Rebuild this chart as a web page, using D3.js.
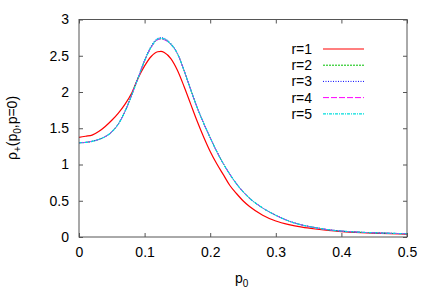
<!DOCTYPE html>
<html>
<head>
<meta charset="utf-8">
<script src="https://cdn.jsdelivr.net/npm/d3@7"></script>
<style>
  body { margin: 0; background: #fff; }
  text { font-family: "Liberation Sans", Arial, sans-serif; fill: #000; }
</style>
</head>
<body>
<svg id="chart" width="436" height="305"></svg>
<script>
const p0 = [0, 0.01, 0.02, 0.03, 0.04, 0.05, 0.06, 0.07, 0.08, 0.09, 0.10, 0.11,
  0.12, 0.125, 0.13, 0.14, 0.15, 0.16, 0.17, 0.18, 0.19, 0.20, 0.21, 0.22, 0.23,
  0.24, 0.25, 0.26, 0.28, 0.30, 0.32, 0.34, 0.36, 0.38, 0.40, 0.43, 0.46, 0.50];

const r1 = [1.375, 1.39, 1.405, 1.455, 1.525, 1.61, 1.71, 1.83, 1.98, 2.19, 2.36, 2.49,
  2.555, 2.56, 2.545, 2.46, 2.30, 2.08, 1.84, 1.60, 1.38, 1.18, 1.01, 0.86, 0.71,
  0.60, 0.50, 0.42, 0.30, 0.22, 0.17, 0.135, 0.11, 0.09, 0.075, 0.06, 0.05, 0.04];
const r2 = [1.30, 1.305, 1.32, 1.345, 1.385, 1.45, 1.56, 1.73, 1.95, 2.19, 2.43, 2.62,
  2.725, 2.735, 2.725, 2.66, 2.53, 2.30, 2.04, 1.79, 1.57, 1.37, 1.18, 1.01, 0.865,
  0.735, 0.625, 0.535, 0.40, 0.30, 0.22, 0.165, 0.13, 0.10, 0.082, 0.065, 0.055, 0.045];
const r3 = [1.30, 1.305, 1.32, 1.345, 1.385, 1.45, 1.56, 1.73, 1.95, 2.20, 2.44, 2.635,
  2.74, 2.75, 2.74, 2.67, 2.535, 2.30, 2.04, 1.79, 1.57, 1.37, 1.18, 1.01, 0.865,
  0.735, 0.625, 0.535, 0.40, 0.30, 0.22, 0.165, 0.13, 0.10, 0.082, 0.065, 0.055, 0.045];
const r4 = [1.30, 1.305, 1.32, 1.345, 1.385, 1.45, 1.56, 1.73, 1.95, 2.19, 2.43, 2.615,
  2.72, 2.73, 2.72, 2.655, 2.53, 2.30, 2.04, 1.79, 1.57, 1.37, 1.18, 1.01, 0.865,
  0.735, 0.625, 0.535, 0.40, 0.30, 0.22, 0.165, 0.13, 0.10, 0.082, 0.065, 0.055, 0.045];
const r5 = [1.30, 1.305, 1.32, 1.345, 1.385, 1.45, 1.56, 1.73, 1.95, 2.19, 2.43, 2.62,
  2.73, 2.74, 2.73, 2.66, 2.53, 2.30, 2.04, 1.79, 1.57, 1.37, 1.18, 1.01, 0.865,
  0.735, 0.625, 0.535, 0.40, 0.30, 0.22, 0.165, 0.13, 0.10, 0.082, 0.065, 0.055, 0.045];

const seriesNames = ["r=1", "r=2", "r=3", "r=4", "r=5"];
const xTicks = [0, 0.1, 0.2, 0.3, 0.4, 0.5];
const yTicks = [0, 0.5, 1, 1.5, 2, 2.5, 3];

const series = [r1, r2, r3, r4, r5];
const colors = ["#ff0000", "#00c000", "#0000ff", "#ff00ff", "#00dddd"];
const dashes = [null, "2,1", "1,1.5", "6,2", "3,1,1,1"];
const widths = [1.2, 1, 1, 1, 1.2];

const svg = d3.select("#chart");
const mLeft = 79, mRight = 407, mTop = 19.5, mBottom = 237;

const x = d3.scaleLinear().domain([0, 0.5]).range([mLeft, mRight]);
const y = d3.scaleLinear().domain([0, 3]).range([mBottom, mTop]);

// curves (drawn first, under the frame)
const line = d3.line()
  .x(d => x(d[0]))
  .y(d => y(d[1]))
  .curve(d3.curveMonotoneX);

svg.selectAll(".curve")
  .data(series)
  .enter()
  .append("path")
  .attr("class", "curve")
  .attr("fill", "none")
  .attr("stroke", (d, i) => colors[i])
  .attr("stroke-width", (d, i) => widths[i])
  .attr("stroke-dasharray", (d, i) => dashes[i])
  .attr("d", d => line(d.map((v, k) => [p0[k], v])));

// axes with inward ticks, mirrored on all sides
const axisColor = "#555";
const fmt = d => d3.format("")(d);

svg.append("g")
  .attr("transform", `translate(0,${mBottom})`)
  .call(d3.axisBottom(x).tickValues(xTicks).tickSize(-4).tickPadding(10).tickFormat(fmt));
svg.append("g")
  .attr("transform", `translate(0,${mTop})`)
  .call(d3.axisTop(x).tickValues(xTicks).tickSize(-4).tickFormat(""));
svg.append("g")
  .attr("transform", `translate(${mLeft},0)`)
  .call(d3.axisLeft(y).tickValues(yTicks).tickSize(-4).tickPadding(10).tickFormat(fmt));
svg.append("g")
  .attr("transform", `translate(${mRight},0)`)
  .call(d3.axisRight(y).tickValues(yTicks).tickSize(-4).tickFormat(""));

svg.selectAll(".domain").remove();
svg.selectAll(".tick line").attr("stroke", axisColor);
svg.selectAll(".tick text")
  .style("font-size", "14px")
  .style("font-family", "'Liberation Sans', Arial, sans-serif")
  .attr("fill", "#000");

svg.append("rect")
  .attr("x", mLeft)
  .attr("y", mTop)
  .attr("width", mRight - mLeft)
  .attr("height", mBottom - mTop)
  .attr("fill", "none")
  .attr("stroke", axisColor)
  .attr("stroke-width", 1);

// axis labels
const xl = svg.append("text")
  .attr("x", 235)
  .attr("y", 283)
  .style("font-size", "14px");
xl.append("tspan").text("p");
xl.append("tspan").attr("dy", 4).style("font-size", "10px").text("0");

const yl = svg.append("text")
  .attr("transform", "translate(17,128) rotate(-90)")
  .attr("text-anchor", "middle")
  .style("font-size", "14px");
yl.append("tspan").text("ρ");
yl.append("tspan").attr("dy", 4).style("font-size", "10px").text("+");
yl.append("tspan").attr("dy", -4).text("(p");
yl.append("tspan").attr("dy", 4).style("font-size", "10px").text("0");
yl.append("tspan").attr("dy", -4).text(",p=0)");

// legend
const legend = svg.selectAll(".legend")
  .data(seriesNames)
  .enter()
  .append("g")
  .attr("class", "legend")
  .attr("transform", (d, i) => `translate(0,${49 + i * 16.2})`);

legend.append("text")
  .attr("x", 312)
  .attr("y", 5)
  .attr("text-anchor", "end")
  .style("font-size", "14px")
  .text(d => d);

legend.append("line")
  .attr("x1", 323)
  .attr("x2", 364)
  .attr("y1", 0)
  .attr("y2", 0)
  .attr("stroke", (d, i) => colors[i])
  .attr("stroke-width", (d, i) => widths[i])
  .attr("stroke-dasharray", (d, i) => dashes[i]);
</script>
</body>
</html>
